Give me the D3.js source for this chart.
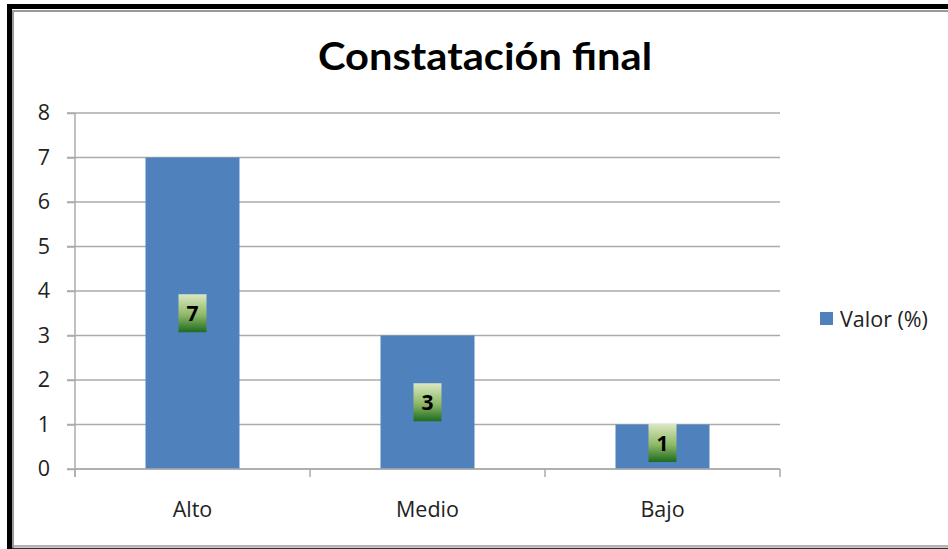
<!DOCTYPE html>
<html>
<head>
<meta charset="utf-8">
<script src="https://cdn.jsdelivr.net/npm/d3@7"></script>
<style>
  body { margin: 0; background: #fff; }
  svg { display: block; }
  text { font-family: "Open Sans", sans-serif; }
</style>
</head>
<body>
<svg></svg>
<script>
// chart data
const categories = ['Alto', 'Medio', 'Bajo']
const values = [7, 3, 1]
const yTicks = [0, 1, 2, 3, 4, 5, 6, 7, 8]
const seriesName = 'Valor (%)'
const title = 'Constatación final'

const width = 948
const height = 549
const plot = { left: 75, right: 780, top: 113, bottom: 469 }
const labelSize = 21.5

const svg = d3.select('svg')
  .attr('width', width)
  .attr('height', height)

// frame: thick black at left/top, thin grey inside
svg.append('path')
  .attr('d', 'M9.5,' + height + ' V6.5 H' + width)
  .attr('fill', 'none').attr('stroke', '#000').attr('stroke-width', 5)
svg.append('path')
  .attr('d', 'M13,' + height + ' V11 H' + width)
  .attr('fill', 'none').attr('stroke', '#9a9a9a').attr('stroke-width', 2)
svg.append('line')
  .attr('x1', 12).attr('x2', width).attr('y1', 546).attr('y2', 546)
  .attr('stroke', '#9a9a9a').attr('stroke-width', 1.5)
svg.append('line')
  .attr('x1', 12).attr('x2', width).attr('y1', 548.5).attr('y2', 548.5)
  .attr('stroke', '#333').attr('stroke-width', 1.5)

const x = d3.scaleBand()
  .domain(categories)
  .range([plot.left, plot.right])
  .paddingInner(0.6)
  .paddingOuter(0.3)

const y = d3.scaleLinear()
  .domain([0, 8])
  .range([plot.bottom, plot.top])

// gridlines
svg.append('g')
  .selectAll('line')
  .data(yTicks)
  .enter()
  .append('line')
  .attr('x1', plot.left - 8)
  .attr('x2', plot.right)
  .attr('y1', (d) => y(d))
  .attr('y2', (d) => y(d))
  .attr('stroke', '#ababab')
  .attr('stroke-width', 1.5)

// y axis
const yAxis = d3.axisLeft(y).tickValues(yTicks).tickSize(8).tickPadding(17)
const gy = svg.append('g')
  .attr('transform', 'translate(' + plot.left + ',0)')
  .call(yAxis)
gy.selectAll('path, line').attr('stroke', '#ababab').attr('stroke-width', 1.5)
gy.select('.domain').attr('d', 'M0,' + plot.top + 'V' + (plot.bottom + 8))
gy.selectAll('text')
  .attr('font-size', labelSize)
  .attr('fill', '#222')
  .style('font-family', '"Open Sans", sans-serif')

// bars
svg.selectAll('rect.bar')
  .data(values)
  .enter()
  .append('rect')
  .attr('class', 'bar')
  .attr('x', (d, i) => x(categories[i]))
  .attr('width', x.bandwidth())
  .attr('y', (d) => y(d))
  .attr('height', (d) => y(0) - y(d))
  .attr('fill', '#4f81bd')

// x axis (category boundary ticks)
const boundaries = categories.map((c, i) => plot.left + i * (plot.right - plot.left) / categories.length)
boundaries.push(plot.right)
const gx = svg.append('g')
gx.append('line')
  .attr('x1', plot.left).attr('x2', plot.right)
  .attr('y1', y(0)).attr('y2', y(0))
  .attr('stroke', '#ababab').attr('stroke-width', 1.5)
gx.selectAll('line.tick')
  .data(boundaries)
  .enter()
  .append('line')
  .attr('class', 'tick')
  .attr('x1', (d) => d).attr('x2', (d) => d)
  .attr('y1', y(0)).attr('y2', y(0) + 8)
  .attr('stroke', '#ababab').attr('stroke-width', 1.5)
gx.selectAll('text')
  .data(categories)
  .enter()
  .append('text')
  .attr('x', (d) => x(d) + x.bandwidth() / 2)
  .attr('y', y(0) + 48)
  .attr('text-anchor', 'middle')
  .attr('font-size', labelSize)
  .attr('fill', '#222')
  .text((d) => d)

// data labels with green gradient boxes
const grad = svg.append('defs').append('linearGradient')
  .attr('id', 'lblGrad')
  .attr('x1', 0).attr('x2', 0).attr('y1', 0).attr('y2', 1)
grad.append('stop').attr('offset', '0%').attr('stop-color', '#dbe8c2')
grad.append('stop').attr('offset', '55%').attr('stop-color', '#8db866')
grad.append('stop').attr('offset', '100%').attr('stop-color', '#1e6b1e')

const boxW = 28
const boxH = 38
const labels = svg.selectAll('g.lbl')
  .data(values)
  .enter()
  .append('g')
  .attr('class', 'lbl')
  .attr('transform', (d, i) => {
    const cx = x(categories[i]) + x.bandwidth() / 2
    const cy = Math.min(y(d / 2), y(0) - 7 - boxH / 2)
    return 'translate(' + cx + ',' + cy + ')'
  })
labels.append('rect')
  .attr('x', -boxW / 2).attr('y', -boxH / 2)
  .attr('width', boxW).attr('height', boxH)
  .attr('fill', 'url(#lblGrad)')
labels.append('text')
  .attr('text-anchor', 'middle')
  .attr('dy', '0.36em')
  .attr('font-size', 21)
  .attr('font-weight', 'bold')
  .attr('fill', '#000')
  .text((d) => d)

// title
svg.append('text')
  .attr('x', 485)
  .attr('y', 70)
  .attr('text-anchor', 'middle')
  .attr('font-size', 38)
  .attr('font-weight', 'bold')
  .attr('fill', '#000')
  .attr('textLength', 334)
  .attr('lengthAdjust', 'spacingAndGlyphs')
  .style('font-family', 'Lato, sans-serif')
  .text(title)

// legend
const legend = svg.append('g').attr('transform', 'translate(820,312)')
legend.append('rect')
  .attr('width', 13).attr('height', 13)
  .attr('fill', '#4f81bd')
legend.append('text')
  .attr('x', 20)
  .attr('y', 7)
  .attr('dy', '0.35em')
  .attr('font-size', labelSize)
  .attr('fill', '#222')
  .text(seriesName)
</script>
</body>
</html>
